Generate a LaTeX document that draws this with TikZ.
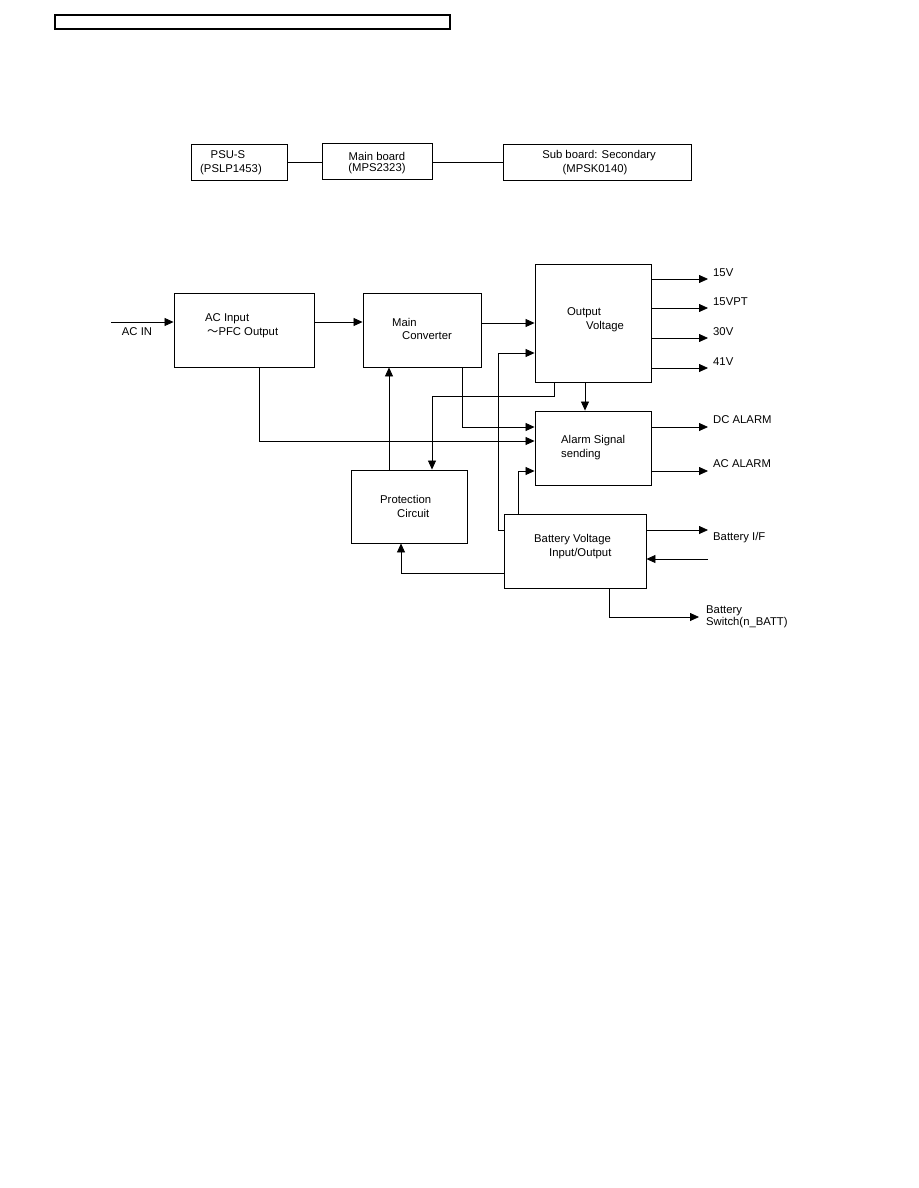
\documentclass[tikz,border=0pt]{standalone}
\usepackage{fontspec}
\setmainfont{Liberation Sans}
\newfontfamily\cjkfont{Noto Sans CJK JP}
\usetikzlibrary{arrows.meta}
\begin{document}
\begin{tikzpicture}[x=1pt,y=-1pt,
  box/.style={draw,line width=0.9pt,inner sep=0pt,rectangle},
  conn/.style={line width=0.8pt},
  arr/.style={conn,-{Triangle[length=9pt,width=8pt]}},
  txt/.style={inner sep=0pt,anchor=west,font=\fontsize{11.3}{12}\selectfont},
  ctxt/.style={inner sep=0pt,anchor=center,font=\fontsize{11.3}{12}\selectfont}]
\useasboundingbox[fill=white] (0,0) rectangle (918,1188);
% header
\node[box,line width=1.2pt,minimum width=395pt,minimum height=14pt] (hdr) at (252.5,22) {};
% top boards
\node[box,minimum width=96pt,minimum height=36pt] (psu) at (239,162) {};
\node[box,minimum width=110pt,minimum height=36pt] (mb) at (377,161) {};
\node[box,minimum width=188pt,minimum height=36pt] (sb) at (597,162) {};
\node[ctxt] (tpsu1) at (228,155) {PSU-S};
\node[ctxt] (tpsu2) at (231,170) {(PSLP1453)};
\node[ctxt] (tmb1) at (377,156) {Main board};
\node[ctxt] (tmb2) at (377,169) {(MPS2323)};
\node[ctxt] (tsb1) at (599,156) {Sub board: Secondary};
\node[ctxt] (tsb2) at (595,170) {(MPSK0140)};
\coordinate (ytop) at (0,162);
\draw[conn] (psu.east |- ytop) -- (mb.west |- ytop);
\draw[conn] (mb.east |- ytop) -- (sb.west |- ytop);
% main blocks
\node[box,minimum width=140pt,minimum height=74pt] (ac) at (244,330) {};
\node[box,minimum width=118pt,minimum height=74pt] (main) at (422,330) {};
\node[box,minimum width=116pt,minimum height=118pt] (out) at (593,323) {};
\node[box,minimum width=116pt,minimum height=74pt] (alarm) at (593,448) {};
\node[box,minimum width=116pt,minimum height=73pt] (prot) at (409,506.5) {};
\node[box,minimum width=142pt,minimum height=74pt] (batt) at (575,551) {};
% block texts
\node[txt] (tac1) at (205,319) {AC Input};
\node[txt] (tac2) at (207,333) {{\cjkfont ～}PFC Output};
\node[txt] (tmain1) at (392,322) {Main};
\node[txt] (tmain2) at (402,336) {Converter};
\node[txt] (tout1) at (567,313) {Output};
\node[txt] (tout2) at (586,327) {Voltage};
\node[txt] (tal1) at (561,441) {Alarm Signal};
\node[txt] (tal2) at (561,455) {sending};
\node[txt] (tpr1) at (380,499) {Protection};
\node[txt] (tpr2) at (397,513) {Circuit};
\node[txt] (tb1) at (534,540) {Battery Voltage};
\node[txt] (tb2) at (549,554) {Input/Output};
% AC IN
\coordinate (acin) at (111,322);
\draw[arr] (acin) -- (ac.west |- acin);
\node[ctxt] (lacin) at (137,332) {AC IN};
% ac -> main -> out
\draw[arr] (ac.east |- acin) -- (main.west |- acin);
\coordinate (y323) at (0,323);
\draw[arr] (main.east |- y323) -- (out.west |- y323);
% battery -> out
\coordinate (bo1) at (498,530);
\coordinate (bo2) at (498,353);
\draw[arr] (batt.west |- bo1) -- (bo1) -- (bo2) -- (out.west |- bo2);
% output voltages
\coordinate (v1) at (708,279);
\coordinate (v2) at (708,308);
\coordinate (v3) at (708,338);
\coordinate (v4) at (708,368);
\draw[arr] (out.east |- v1) -- (v1);
\draw[arr] (out.east |- v2) -- (v2);
\draw[arr] (out.east |- v3) -- (v3);
\draw[arr] (out.east |- v4) -- (v4);
\node[txt] (l15v) at (713,273) {15V};
\node[txt] (l15vpt) at (713,302) {15VPT};
\node[txt] (l30v) at (713,332) {30V};
\node[txt] (l41v) at (713,362) {41V};
% out -> protection
\coordinate (op1) at (554,396);
\coordinate (op2) at (432,396);
\draw[arr] (out.south -| op1) -- (op1) -- (op2) -- (prot.north -| op2);
% out -> alarm
\coordinate (oa) at (585,0);
\draw[arr] (out.south -| oa) -- (alarm.north -| oa);
% main -> alarm
\coordinate (ma) at (462,427);
\draw[arr] (main.south -| ma) -- (ma) -- (alarm.west |- ma);
% ac -> alarm
\coordinate (aa) at (259,441);
\draw[arr] (ac.south -| aa) -- (aa) -- (alarm.west |- aa);
% protection -> main
\coordinate (pm) at (389,0);
\draw[arr] (prot.north -| pm) -- (main.south -| pm);
% battery -> alarm
\coordinate (ba) at (518,471);
\draw[arr] (batt.north -| ba) -- (ba) -- (alarm.west |- ba);
% alarm outputs
\coordinate (dca) at (708,427);
\coordinate (aca) at (708,471);
\draw[arr] (alarm.east |- dca) -- (dca);
\draw[arr] (alarm.east |- aca) -- (aca);
\node[txt] (ldca) at (713,420) {DC ALARM};
\node[txt] (laca) at (713,464) {AC ALARM};
% battery outputs
\coordinate (bif) at (708,530);
\draw[arr] (batt.east |- bif) -- (bif);
\node[txt] (lbif) at (713,538) {Battery I/F};
\coordinate (bin) at (708,559);
\draw[arr] (bin) -- (batt.east |- bin);
% battery -> protection
\coordinate (bp) at (401,573);
\draw[arr] (batt.west |- bp) -- (bp) -- (prot.south -| bp);
% battery switch
\coordinate (bs1) at (609,617);
\coordinate (bs2) at (699,617);
\draw[arr] (batt.south -| bs1) -- (bs1) -- (bs2);
\node[txt,align=left,font=\fontsize{11.3}{10}\selectfont] (lbs) at (706,617) {Battery\\Switch(n\_BATT)};
\end{tikzpicture}
\end{document}
